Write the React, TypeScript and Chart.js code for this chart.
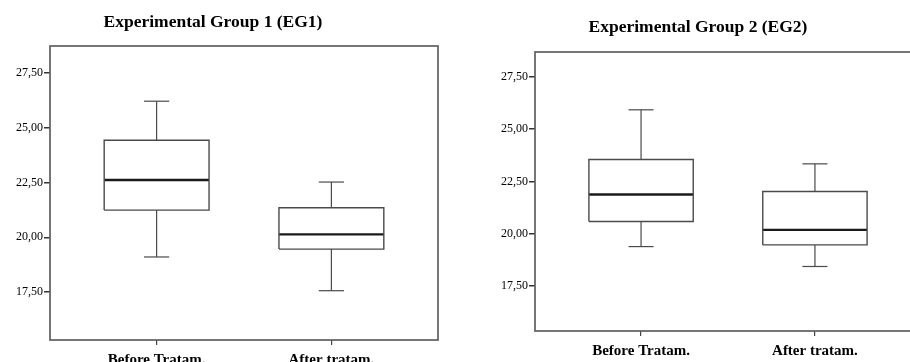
import React, { useEffect, useRef } from 'react';
import { Chart, registerables } from 'chart.js';

Chart.register(...registerables);

// ---- data ----
const categories = ['Before Tratam.', 'After tratam.'];
const yTickValues = [17.5, 20, 22.5, 25, 27.5];

const eg1Title = 'Experimental Group 1 (EG1)';
const eg1Min = [19.1, 17.56];
const eg1Q1 = [21.24, 19.46];
const eg1Median = [22.61, 20.13];
const eg1Q3 = [24.43, 21.35];
const eg1Max = [26.21, 22.52];
const eg1Range = [15.31, 28.73];

const eg2Title = 'Experimental Group 2 (EG2)';
const eg2Min = [19.39, 18.44];
const eg2Q1 = [20.59, 19.47];
const eg2Median = [21.88, 20.19];
const eg2Q3 = [23.55, 22.02];
const eg2Max = [25.92, 23.34];
const eg2Range = [15.36, 28.68];

const FONT = "'Liberation Serif', 'Times New Roman', serif";
const BOX_HALF = 0.3;
const CAP_HALF = 0.072;

type Stats = { min: number[]; q1: number[]; med: number[]; q3: number[]; max: number[] };

function buildDatasets(s: Stats) {
  const ds: any[] = [];
  const base = {
    showLine: true,
    pointRadius: 0,
    pointHoverRadius: 0,
    fill: false,
    tension: 0,
  };
  const lineColor = '#4a4a4a';
  categories.forEach((_, i) => {
    // whiskers
    ds.push({ ...base, borderColor: lineColor, borderWidth: 1.2, data: [{ x: i, y: s.q3[i] }, { x: i, y: s.max[i] }] });
    ds.push({ ...base, borderColor: lineColor, borderWidth: 1.2, data: [{ x: i, y: s.q1[i] }, { x: i, y: s.min[i] }] });
    ds.push({ ...base, borderColor: lineColor, borderWidth: 1.2, data: [{ x: i - CAP_HALF, y: s.max[i] }, { x: i + CAP_HALF, y: s.max[i] }] });
    ds.push({ ...base, borderColor: lineColor, borderWidth: 1.2, data: [{ x: i - CAP_HALF, y: s.min[i] }, { x: i + CAP_HALF, y: s.min[i] }] });
    // box
    ds.push({
      ...base,
      borderColor: lineColor,
      borderWidth: 1.4,
      data: [
        { x: i - BOX_HALF, y: s.q1[i] },
        { x: i + BOX_HALF, y: s.q1[i] },
        { x: i + BOX_HALF, y: s.q3[i] },
        { x: i - BOX_HALF, y: s.q3[i] },
        { x: i - BOX_HALF, y: s.q1[i] },
      ],
    });
    // median
    ds.push({ ...base, borderColor: '#1a1a1a', borderWidth: 2.4, data: [{ x: i - BOX_HALF, y: s.med[i] }, { x: i + BOX_HALF, y: s.med[i] }] });
  });
  return ds;
}

const framePlugin = {
  id: 'frame',
  afterDraw(chart: any) {
    const { ctx, chartArea } = chart;
    ctx.save();
    ctx.strokeStyle = '#5e5e5e';
    ctx.lineWidth = 1.7;
    ctx.strokeRect(chartArea.left, chartArea.top, chartArea.right - chartArea.left, chartArea.bottom - chartArea.top);
    ctx.restore();
  },
};

type PanelProps = {
  stats: Stats;
  range: number[];
  width: number;
  height: number;
  left: number;
  padTop: number;
  padRight: number;
  yAxisW: number;
  xAxisH: number;
};

function Panel(p: PanelProps) {
  const ref = useRef<HTMLCanvasElement>(null);
  useEffect(() => {
    if (!ref.current) return;
    const chart = new Chart(ref.current, {
      type: 'scatter',
      data: { datasets: buildDatasets(p.stats) },
      options: {
        animation: false,
        responsive: false,
        maintainAspectRatio: false,
        events: [],
        layout: { padding: { left: 0, top: p.padTop, right: p.padRight, bottom: 0 } },
        plugins: { legend: { display: false }, tooltip: { enabled: false }, title: { display: false } },
        scales: {
          x: {
            type: 'linear',
            min: -0.61,
            max: 1.61,
            afterFit: (s: any) => {
              s.height = p.xAxisH;
            },
            afterBuildTicks: (s: any) => {
              s.ticks = categories.map((_, i) => ({ value: i }));
            },
            ticks: {
              callback: (v: any) => categories[Math.round(Number(v))] ?? '',
              font: { family: FONT, size: 15, weight: 'bold' },
              color: '#000',
              padding: 6,
              maxRotation: 0,
              autoSkip: false,
            },
            grid: { drawOnChartArea: false, drawTicks: true, tickLength: 5, color: '#444', lineWidth: 1.2 },
            border: { display: false },
          },
          y: {
            type: 'linear',
            min: p.range[0],
            max: p.range[1],
            afterFit: (s: any) => {
              s.width = p.yAxisW;
            },
            afterBuildTicks: (s: any) => {
              s.ticks = yTickValues.map((v) => ({ value: v }));
            },
            ticks: {
              callback: (v: any) => Number(v).toFixed(2).replace('.', ','),
              font: { family: FONT, size: 12 },
              color: '#000',
              padding: 1,
            },
            grid: { drawOnChartArea: false, drawTicks: true, tickLength: 6, color: '#333', lineWidth: 1.5 },
            border: { display: false },
          },
        },
      } as any,
      plugins: [framePlugin],
    });
    return () => chart.destroy();
  }, []);
  return (
    <canvas
      ref={ref}
      width={p.width}
      height={p.height}
      style={{ position: 'absolute', left: p.left, top: 0, width: p.width, height: p.height }}
    />
  );
}

const titleStyle: React.CSSProperties = {
  position: 'absolute',
  fontFamily: FONT,
  fontWeight: 'bold',
  fontSize: 17.5,
  lineHeight: '17.5px',
  textAlign: 'center',
  color: '#000',
  whiteSpace: 'nowrap',
};

export default function App() {
  return (
    <div
      style={{
        position: 'absolute',
        left: 0,
        top: 0,
        width: 910,
        height: 362,
        overflow: 'hidden',
        background: '#fff',
      }}
    >
      <Panel
        stats={{ min: eg1Min, q1: eg1Q1, med: eg1Median, q3: eg1Q3, max: eg1Max }}
        range={eg1Range}
        width={455}
        height={362}
        left={0}
        padTop={46}
        padRight={17}
        yAxisW={50}
        xAxisH={22}
      />
      <Panel
        stats={{ min: eg2Min, q1: eg2Q1, med: eg2Median, q3: eg2Q3, max: eg2Max }}
        range={eg2Range}
        width={480}
        height={362}
        left={455}
        padTop={52}
        padRight={14}
        yAxisW={80}
        xAxisH={31}
      />
      <div style={{ ...titleStyle, left: 63, width: 300, top: 13 }}>{eg1Title}</div>
      <div style={{ ...titleStyle, left: 548, width: 300, top: 18 }}>{eg2Title}</div>
    </div>
  );
}
